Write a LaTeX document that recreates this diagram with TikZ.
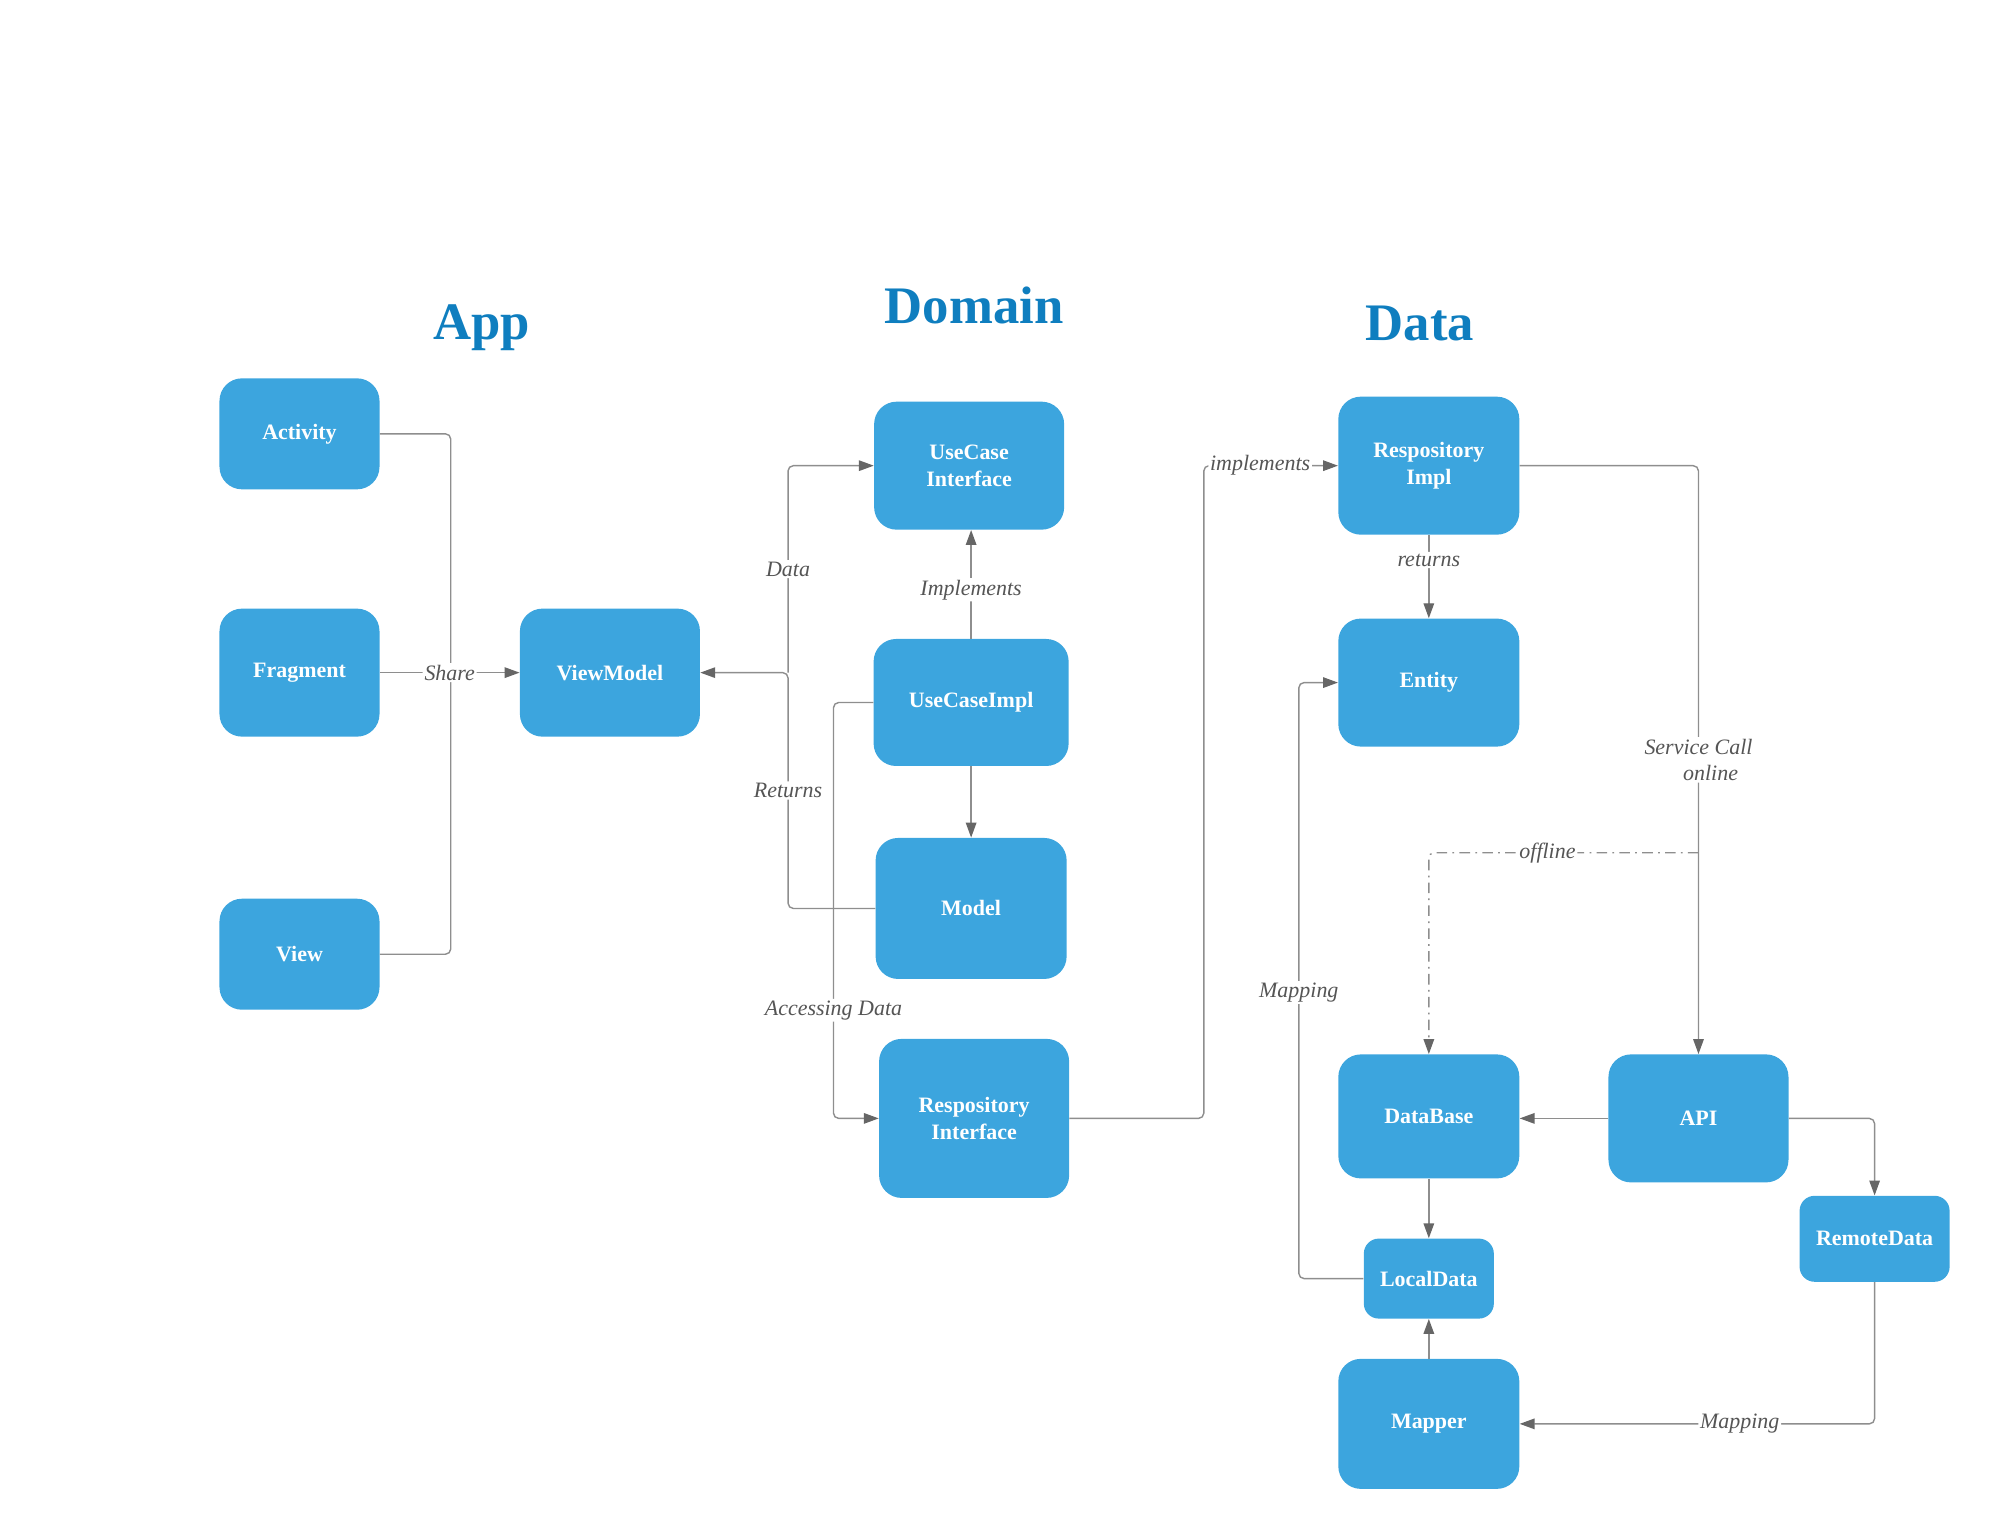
\documentclass[tikz,border=0pt]{standalone}
\usepackage{fontspec}
\setmainfont{Liberation Serif}
\usepackage{tikz}
\usetikzlibrary{arrows.meta,calc}
\definecolor{boxblue}{HTML}{3CA5DE}
\definecolor{headblue}{HTML}{0F7EBF}
\definecolor{linegray}{HTML}{8E8E8E}
\definecolor{tipgray}{HTML}{666666}
\definecolor{labgray}{HTML}{555555}
\newcommand{\layer}[1]{{\fontsize{30}{34}\selectfont\bfseries\color{headblue}#1}}

\begin{document}
\begin{tikzpicture}[x=0.0199cm, y=-0.0199cm]
      \tikzset{blk/.style={draw=none, fill=boxblue, rounded corners=0.45cm,
        text=white, align=center, inner sep=0pt,
        font=\fontsize{12.5}{15}\selectfont\bfseries}}
      \tikzset{link/.style={draw=linegray, line width=0.8pt, rounded corners=3pt,
        -{Triangle[length=8.5pt, width=6pt, color=tipgray]}}}
      \tikzset{plain/.style={draw=linegray, line width=0.8pt, rounded corners=3pt}}
      \tikzset{lbl/.style={fill=white, inner sep=1pt, text=labgray, align=center,
        font=\fontsize{12.5}{15}\selectfont\itshape}}

      \useasboundingbox (0,0) rectangle (2000,1538.6);

      % layer titles
      \path
      (484,329) node (tapp) {\layer{App}}
      (979,307) node (tdom) {\layer{Domain}}
      (1427,325) node (tdat) {\layer{Data}};

      % app layer
      \path
      (301,436) node [blk, minimum width=3.2cm, minimum height=2.22cm] (act) {Activity}
      (301,676) node [blk, minimum width=3.2cm, minimum height=2.56cm] (frag) {Fragment}
      (301,959) node [blk, minimum width=3.2cm, minimum height=2.22cm] (view) {View}
      (613,676) node [blk, minimum width=3.6cm, minimum height=2.56cm] (vm) {ViewModel};

      % domain layer
      \path
      (974,468) node [blk, minimum width=3.8cm, minimum height=2.56cm] (uci) {UseCase\\Interface}
      (976,706) node [blk, minimum width=3.9cm, minimum height=2.54cm] (uimpl) {UseCaseImpl}
      (976,913) node [blk, minimum width=3.82cm, minimum height=2.82cm] (model) {Model}
      (979,1124) node [blk, minimum width=3.8cm, minimum height=3.18cm] (rint) {Respository\\Interface};

      % data layer
      \path
      (1436,468) node [blk, minimum width=3.62cm, minimum height=2.76cm] (rimpl) {Respository\\Impl}
      (1436,686) node [blk, minimum width=3.62cm, minimum height=2.56cm] (ent) {Entity}
      (1436,1122) node [blk, minimum width=3.62cm, minimum height=2.48cm] (db) {DataBase}
      (1707,1124) node [blk, minimum width=3.6cm, minimum height=2.56cm] (api) {API}
      (1884,1245) node [blk, minimum width=3.0cm, minimum height=1.72cm, rounded corners=0.3cm] (rdata) {RemoteData}
      (1436,1285) node [blk, minimum width=2.6cm, minimum height=1.6cm, rounded corners=0.3cm] (ldata) {LocalData}
      (1436,1431) node [blk, minimum width=3.62cm, minimum height=2.6cm] (mapper) {Mapper};

      \coordinate (share) at (453,676);
      \coordinate (dj) at (792,676);
      \coordinate (off) at (1707,857);

      % app connectors
      \draw [plain] (act.east) -| (share);
      \draw [plain] (view.east) -| (share);
      \draw [link] (frag.east) -- node [lbl, pos=0.5] {Share} (vm.west);

      % domain connectors
      \draw [link] (model.west) -| node [lbl, pos=0.75] {Returns} (dj) -- (vm.east);
      \draw [link] (dj) |- node [lbl, pos=0.25] {Data} (uci.west);
      \draw [link] (uimpl.north) -- node [lbl, pos=0.45] {Implements} (uimpl.north |- uci.south);
      \draw [link] (uimpl.south) -- (model.north);
      \draw [link] (uimpl.west) -- ++(-40,0) |- node [lbl, pos=0.37] {Accessing Data} (rint.west);
      \draw [link] (rint.east) -- ++(135,0) |- node [lbl, pos=0.71] {implements} (rimpl.west);

      % data connectors
      \draw [link] (rimpl.south) -- node [lbl, pos=0.3] {returns} (ent.north);
      \draw [link] (rimpl.east) -| node [lbl, pos=0.75] {Service Call\\\hspace*{1.1em}online} (api.north);
      \draw [link, dash pattern=on 6pt off 3pt on 1pt off 3pt] (off) -| node [lbl, pos=0.28] {offline} (db.north);
      \draw [link] (api.west) -- (api.west -| db.east);
      \draw [link] (api.east) -| (rdata.north);
      \draw [link] (rdata.south) |- node [lbl, pos=0.69] {Mapping} (mapper.east);
      \draw [link] (db.south) -- (ldata.north);
      \draw [link] (mapper.north) -- (ldata.south);
      \draw [link] (ldata.west) -- ++(-65,0) |- node [lbl, pos=0.24] {Mapping} (ent.west);
\end{tikzpicture}
\end{document}
